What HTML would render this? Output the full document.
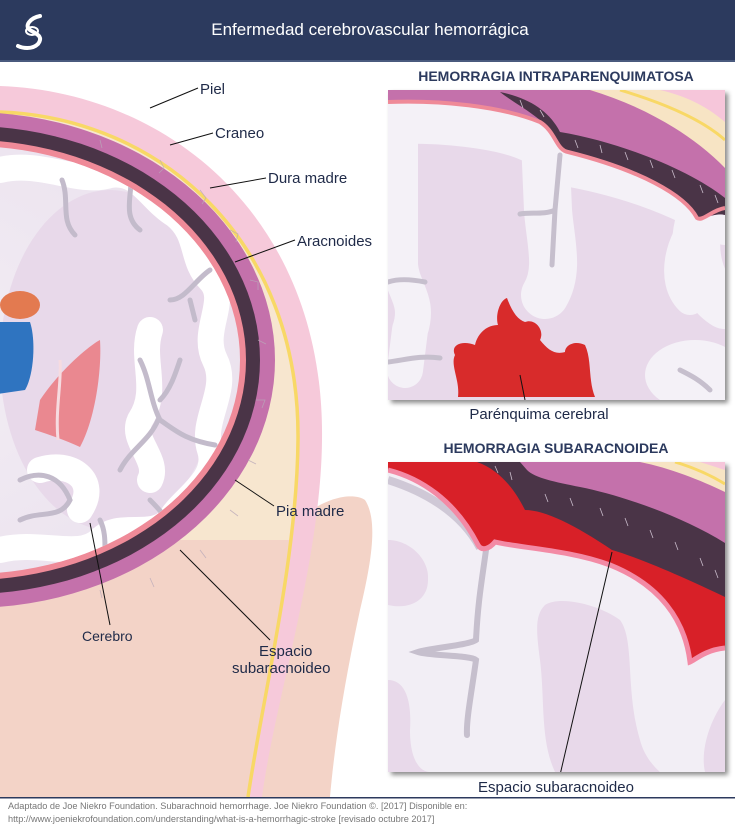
<!DOCTYPE html>
<html><head><meta charset="utf-8"><style>
html,body{margin:0;padding:0;background:#fff;}
body{width:735px;height:833px;overflow:hidden;font-family:"Liberation Sans",sans-serif;}
svg{display:block}
</style></head><body>
<svg width="735" height="833" viewBox="0 0 735 833" xmlns="http://www.w3.org/2000/svg" font-family="Liberation Sans, sans-serif">
<defs>
<radialGradient id="brain" cx="0.35" cy="0.5" r="0.7"><stop offset="0" stop-color="#f3eef5"/><stop offset="1" stop-color="#ebe2ee"/></radialGradient>
<filter id="sh" x="-5%" y="-5%" width="115%" height="115%"><feDropShadow dx="3" dy="3" stdDeviation="2.5" flood-color="#000" flood-opacity="0.45"/></filter>
<clipPath id="c1"><rect x="388" y="90" width="337" height="310"/></clipPath>
<clipPath id="c2"><rect x="388" y="462" width="337" height="310"/></clipPath>
<clipPath id="cb"><ellipse cx="-30" cy="360" rx="270" ry="214"/></clipPath>
</defs>
<!-- header -->
<rect x="0" y="0" width="735" height="60" fill="#2c3a5e"/>
<rect x="0" y="60" width="735" height="2" fill="#4a5a7e"/>
<text x="370" y="35" fill="#fff" font-size="17" text-anchor="middle">Enfermedad cerebrovascular hemorrágica</text>
<g fill="none" stroke="#fff" stroke-width="4" stroke-linecap="round">
<path d="M40,16 C30,18 24,26 30,30 C36,34 44,36 38,44 C32,50 22,48 18,46"/>
<ellipse cx="32" cy="31" rx="6" ry="4" stroke-width="2"/>
</g>

<!-- neck right bump -->
<path d="M280,540 C310,500 350,490 365,500 C378,520 372,560 360,610 C345,680 335,740 330,797 L0,797 L0,560 Z" fill="#f3d3c7"/>
<!-- skin -->
<path d="M0,86 C170,92 325,220 322,440 C321,560 275,700 262,797 L0,797 Z" fill="#f6c9da"/>
<!-- skull -->
<path d="M0,112 C160,118 300,240 298,440 C297,500 292,530 285,560 L0,560 Z" fill="#f7e6cf"/>
<path d="M0,540 L290,540 C280,620 258,710 248,797 L0,797 Z" fill="#f3d3c7"/>
<path d="M0,112 C160,118 300,240 298,440 C297,560 262,700 248,797" fill="none" stroke="#f8d866" stroke-width="3.5"/>
<!-- dura etc -->
<ellipse cx="-30" cy="360" rx="305" ry="248" fill="#c471ab"/>
<ellipse cx="-30" cy="360" rx="290" ry="234" fill="#4a3447"/>
<g stroke="#b9a9b9" stroke-width="0.8" fill="none" opacity="0.8">
<path d="M200,190 l6,8 l-4,6 M230,230 l8,4 l-2,8 M250,280 l8,2 l0,8 M258,340 l8,4 M256,400 l9,0 l-3,8 M248,460 l8,4 M230,510 l8,6 M200,550 l6,8 M150,578 l4,9 M100,590 l2,8 M160,160 l4,8 l-5,5 M100,140 l2,8"/>
</g>
<ellipse cx="-30" cy="360" rx="276" ry="220" fill="#ef8a98"/>
<ellipse cx="-30" cy="360" rx="270" ry="214" fill="url(#brain)"/>
<g clip-path="url(#cb)">
<ellipse cx="110" cy="360" rx="110" ry="170" fill="#e8d9ea"/>
<g fill="none" stroke="#fff" stroke-width="26" stroke-linejoin="round" stroke-linecap="round">
<path d="M0,170 C40,160 80,185 110,175 C140,170 150,200 175,215 C200,235 190,260 210,280 C230,300 200,330 215,360 C230,390 200,420 210,450 C220,480 180,500 170,520 C150,540 120,520 100,540 C80,560 40,540 0,550"/>
<path d="M150,330 C140,360 160,390 140,420 C130,440 160,460 150,480"/>
<path d="M40,470 C70,460 100,480 80,510"/>
</g>
<g fill="none" stroke="#c3bbcb" stroke-width="5" stroke-linecap="round">
<path d="M62,180 C70,200 60,220 75,235"/>
<path d="M130,170 C135,190 120,215 140,230"/>
<path d="M170,300 C185,300 195,280 210,270 M190,300 L195,320"/>
<path d="M140,360 C150,380 150,400 160,420 C175,430 185,440 215,445 M158,420 C150,440 130,450 120,470 M160,400 C170,390 175,375 180,360"/>
<path d="M20,480 C40,470 60,475 70,500 C60,520 40,510 20,520"/>
<path d="M150,500 C160,510 170,520 175,540"/>
<path d="M100,520 C110,540 100,560 110,580"/>
</g>
<ellipse cx="20" cy="305" rx="20" ry="14" fill="#e37a50"/>
<path d="M-10,322 L30,322 C36,340 34,375 25,390 L-10,395 Z" fill="#2f74c0"/>
<path d="M40,400 C60,370 90,345 100,340 C102,370 95,420 80,447 C65,440 50,435 35,430 Z" fill="#ea8890"/>
<path d="M60,360 C62,380 55,410 58,440" stroke="#f6dbe0" stroke-width="3" fill="none"/>
</g>
<!-- left labels -->
<g fill="#1f2a48" font-size="15">
<text x="200" y="94">Piel</text>
<text x="215" y="138">Craneo</text>
<text x="268" y="183">Dura madre</text>
<text x="297" y="246">Aracnoides</text>
<text x="276" y="516">Pia madre</text>
<text x="82" y="641" font-size="14">Cerebro</text>
<text x="259" y="656">Espacio</text>
<text x="232" y="673">subaracnoideo</text>
</g>
<g stroke="#111" stroke-width="1" fill="none">
<path d="M198,88 L150,108"/>
<path d="M213,133 L170,145"/>
<path d="M266,178 L210,188"/>
<path d="M295,240 L235,262"/>
<path d="M274,506 L235,480"/>
<path d="M90,523 L110,625"/>
<path d="M180,550 L270,640"/>
</g>

<!-- panel 1 -->
<text x="556" y="81" fill="#2c3a5e" font-size="14" font-weight="bold" text-anchor="middle">HEMORRAGIA INTRAPARENQUIMATOSA</text>
<rect x="388" y="90" width="337" height="310" fill="#e8d9ea" filter="url(#sh)"/>
<g clip-path="url(#c1)">
<g fill="none" stroke="#f4f1f7" stroke-linecap="round" stroke-linejoin="round">
<path d="M388,122 C440,120 500,126 530,140" stroke-width="44"/>
<path d="M400,110 L400,265 C402,290 420,300 410,330 L405,370" stroke-width="36"/>
<path d="M545,140 L548,210 C550,240 560,270 545,295" stroke-width="48"/>
<path d="M560,165 C620,175 680,195 725,225" stroke-width="40"/>
<path d="M700,220 C690,250 700,290 725,305" stroke-width="48"/>
<path d="M700,220 C680,240 670,280 690,300" stroke-width="30"/>
</g>
<ellipse cx="695" cy="375" rx="50" ry="35" fill="#f4f1f7"/>
<g fill="none" stroke="#c6bfcd" stroke-width="5" stroke-linecap="round">
<path d="M560,155 L555,210 C545,215 530,212 520,214 M555,210 L552,265"/>
<path d="M388,282 C400,278 415,280 425,282"/>
<path d="M388,362 C405,360 420,355 440,358"/>
<path d="M680,370 C690,375 700,380 710,390"/>
</g>
<path d="M388,90 L725,90 L725,215 C712,212 702,222 697,218 C685,195 640,170 568,152 C556,150 556,130 540,122 C500,106 440,100 388,102 Z" fill="#c471ab"/>
<path d="M500,92 C530,98 550,112 560,132 C620,142 690,170 725,198 L725,215 C712,212 702,222 697,218 C685,195 640,170 568,152 C556,150 556,130 540,120 C525,108 510,100 500,92Z" fill="#4a3447"/>
<g stroke="#c9bccb" stroke-width="0.8" fill="none"><path d="M520,100 l3,8 M540,110 l4,7 M575,140 l3,8 M600,145 l2,8 M625,152 l3,8 M650,160 l3,8 M672,170 l3,8 M700,185 l3,8 M715,195 l3,8"/></g>
<path d="M388,102 C440,100 500,106 540,122 C556,132 556,150 568,152 C640,170 685,195 697,218 C702,222 712,210 725,208" fill="none" stroke="#ef8a98" stroke-width="4"/>
<path d="M590,90 L725,90 L725,168 C690,132 640,105 590,90Z" fill="#f7e4c4"/>
<path d="M620,90 C670,105 705,122 725,140" fill="none" stroke="#f8d866" stroke-width="3"/>
<path d="M660,90 L725,90 L725,122 C705,105 685,96 660,90Z" fill="#f6c6da"/>
<path d="M455,355 C450,345 462,340 475,345 C478,332 488,325 498,325 C495,315 500,300 507,298 C512,312 518,320 525,322 C535,318 545,330 540,340 C548,350 555,355 565,352 C565,345 575,340 585,345 C592,360 588,380 595,397 L458,397 C460,380 450,365 455,355Z" fill="#d82b2b"/>
<path d="M520,375 L525,400" stroke="#111" stroke-width="1"/>
</g>
<text x="539" y="419" fill="#1f2a48" font-size="15" text-anchor="middle">Parénquima cerebral</text>

<!-- panel 2 -->
<text x="556" y="453" fill="#2c3a5e" font-size="14" font-weight="bold" text-anchor="middle">HEMORRAGIA SUBARACNOIDEA</text>
<rect x="388" y="462" width="337" height="310" fill="#f2eef5" filter="url(#sh)"/>
<g clip-path="url(#c2)">
<path d="M388,540 C410,540 430,560 428,580 C428,600 410,610 388,605Z" fill="#e8d9ea"/>
<path d="M388,680 C405,680 412,700 410,730 C410,760 420,772 430,772 L388,772Z" fill="#e8d9ea"/>
<path d="M545,605 C560,595 600,605 620,620 C635,640 625,690 640,740 C645,760 660,772 660,772 L555,772 C540,740 545,700 540,660 C536,630 535,615 545,605Z" fill="#e8d9ea"/>
<path d="M725,700 C710,720 700,750 705,772 L725,772Z" fill="#e8d9ea"/>
<path d="M388,480 C420,490 460,510 480,548" fill="none" stroke="#cfc8d6" stroke-width="8"/>
<path d="M486,550 C482,580 478,600 476,640 C470,645 430,648 418,652 C430,656 470,655 476,660 C472,690 466,720 467,735" fill="none" stroke="#c6bfcd" stroke-width="6" stroke-linecap="round"/>
<path d="M388,462 L725,462 L725,648 C705,650 695,660 690,662 C685,620 660,585 610,565 C570,550 520,548 495,542 C490,548 482,552 478,545 C455,500 420,478 388,470 Z" fill="#d82028"/>
<path d="M388,470 C420,478 455,500 478,545 C482,552 490,548 495,542 C520,548 570,550 610,565 C660,585 685,620 690,662 C695,660 705,650 725,648" fill="none" stroke="#f38aa5" stroke-width="5"/>
<path d="M477,462 L725,462 L725,597 C690,580 640,558 612,550 C575,525 545,510 525,510 C515,490 500,470 477,462Z" fill="#4a3447"/>
<g stroke="#c9bccb" stroke-width="0.8" fill="none"><path d="M495,466 l3,7 M510,472 l2,8 M545,494 l3,8 M570,498 l3,8 M600,508 l3,8 M625,518 l3,8 M650,530 l3,8 M675,542 l3,8 M700,558 l3,8 M715,570 l3,8"/></g>
<path d="M520,462 L725,462 L725,543 C680,515 620,495 580,487 C555,482 535,478 527,470Z" fill="#c471ab"/>
<path d="M640,462 L725,462 L725,492 C700,480 670,468 640,462Z" fill="#f7e4c4"/>
<path d="M675,462 C695,468 712,476 725,484" fill="none" stroke="#f8d866" stroke-width="3"/>
<path d="M700,462 L725,462 L725,470Z" fill="#f6c6da"/>
<path d="M612,552 L560,775" stroke="#111" stroke-width="1"/>
</g>
<text x="556" y="792" fill="#1f2a48" font-size="15" text-anchor="middle">Espacio subaracnoideo</text>

<!-- footer -->
<rect x="0" y="797" width="735" height="1.5" fill="#2c3a5e"/>
<text x="8" y="809" fill="#777" font-size="9.2">Adaptado de Joe Niekro Foundation. Subarachnoid hemorrhage. Joe Niekro Foundation ©. [2017] Disponible en:</text>
<text x="8" y="822" fill="#777" font-size="9.2">http://www.joeniekrofoundation.com/understanding/what-is-a-hemorrhagic-stroke [revisado octubre 2017]</text>
</svg>
</body></html>
